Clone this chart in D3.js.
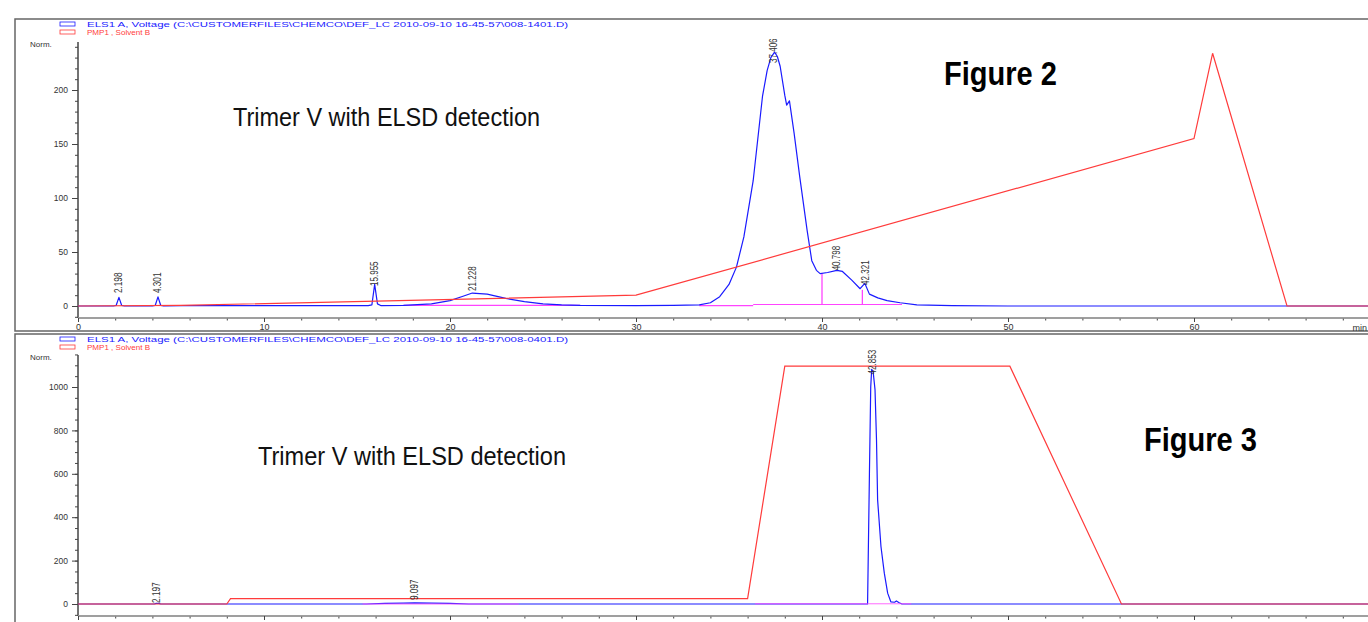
<!DOCTYPE html>
<html><head><meta charset="utf-8">
<script src="https://cdn.jsdelivr.net/npm/d3@7"></script>
<style>
html,body{margin:0;padding:0;background:#fff;}
svg{display:block;}
text{font-family:"Liberation Sans",Arial,sans-serif;}
</style></head>
<body>
<svg id="chart" width="1368" height="622"></svg>
<script>
// ---------- DATA ----------
const legendSignal2 = "ELS1 A, Voltage (C:\\CUSTOMERFILES\\CHEMCO\\DEF_LC 2010-09-10 16-45-57\\008-1401.D)";
const legendSignal3 = "ELS1 A, Voltage (C:\\CUSTOMERFILES\\CHEMCO\\DEF_LC 2010-09-10 16-45-57\\008-0401.D)";
const legendSolvent = "PMP1 , Solvent B";
const panelTitle = "Trimer V with ELSD detection";
const figureLabels = ["Figure 2", "Figure 3"];
const xTicksMajor = [0, 10, 20, 30, 40, 50, 60];
const yTicks2 = [0, 50, 100, 150, 200];
const yTicks3 = [0, 200, 400, 600, 800, 1000];

// Figure 2 ELSD trace [time (min), signal]
const elsd2 = [[0,0],[1.9,0],[2.05,0.5],[2.2,8],[2.35,0.5],[2.5,0],[4.0,0],[4.15,0.5],[4.3,8.5],[4.45,0.5],[4.6,0],
  [5.6,0.3],[15.6,0.3],[15.8,1],[15.95,20],[16.1,2],[16.3,0.3],[17.5,0.5],[19,2],[20,5],[20.7,9],[21.2,12],[22,11],
  [23,7],[24,4],[25,2],[26,1],[27,0.5],[30,0.3],[32,0.5],[33.4,1],[34.0,3],[34.5,8.6],[35,20],[35.4,36],[35.8,64],
  [36.3,116],[36.8,194],[37.05,218],[37.25,230],[37.45,235],[37.6,231],[37.75,222],[38.0,195],[38.1,186],[38.25,190],[38.5,160],
  [38.8,120],[39.2,70],[39.45,42],[39.7,33],[39.9,30],[40.3,31],[40.8,33],[41.1,32],[41.6,24],[42.05,16],[42.3,21],
  [42.55,11],[43,7.5],[43.5,5],[44.2,3],[45.1,1],[47,0.3],[50,0],[70,0]];
// Figure 2 solvent B gradient
const solvent2 = [[0,0],[5.5,0.5],[30,10],[60,155],[61,234],[65,0],[70,0]];
// Figure 2 integration baselines (segments) and drop lines
const baseline2 = [[[17.5,0.6],[27,0.6]],[[33.4,0.4],[36.3,0.4]],[[36.3,1.4],[44.3,1.4]]];
const drops2 = [[40.0,1.4,30],[42.17,1.4,15]];
// Figure 2 peak labels
const peakTimes2 = [2.198, 4.301, 15.955, 21.228, 37.406, 40.798, 42.321];
const peakTexts2 = ["2.198","4.301","15.955","21.228","37.406","40.798","42.321"];
const peakLabelY2 = [12, 12, 18.5, 14, 225, 33, 19.5];

// Figure 3 ELSD trace
const elsd3 = [[0,0],[4.1,0],[4.2,3],[4.35,3],[4.45,0],[15.5,0],[16.5,3],[17.5,4],[18.1,5],[19,4],[20,3],[21,0],
  [42.45,0],[42.55,600],[42.62,1000],[42.67,1081],[42.75,1070],[42.85,988],[42.93,757],[42.99,480],[43.17,265],
  [43.35,142],[43.53,50],[43.7,10],[43.9,8],[44.0,14],[44.15,6],[44.3,0],[70,0]];
const solvent3 = [[0,0],[8,0],[8.2,25],[36,25],[38,1096],[50.1,1096],[56.1,0],[70,0]];
const baseline3 = [[[15.3,0],[23.7,0]],[[36.4,1],[44.8,1]]];
const peakTimes3 = [4.2, 18.1, 42.73];
const peakTexts3 = ["2.197","9.097","42.853"];
const peakLabelY3 = [5, 18, 1058];

// ---------- DRAW ----------
const svg = d3.select("#chart");
svg.append("rect").attr("width",1368).attr("height",622).attr("fill","#fff");

const x = d3.scaleLinear().domain([0, 10]).range([78, 264]);
const BLUE = "#1a1aff", RED = "#ff3b3b", MAG = "#ff44ff", AX = "#444";
const CONDENSED = "'Liberation Sans Narrow','DejaVu Sans Condensed','Roboto',sans-serif";

function panel(cfg){
  const g = svg.append("g");
  const y = d3.scaleLinear().domain([0, cfg.vRef]).range([cfg.y0, cfg.yRef]);
  // frame
  g.append("path").attr("d", `M1370,${cfg.top} H15 V${cfg.bottom} H1370`)
    .attr("fill","none").attr("stroke","#666").attr("stroke-width",1.5);
  // legend
  g.append("rect").attr("x",60).attr("y",cfg.top+3).attr("width",15).attr("height",4)
    .attr("fill","none").attr("stroke",BLUE).attr("stroke-width",0.8);
  g.append("rect").attr("x",60).attr("y",cfg.top+11).attr("width",15).attr("height",4)
    .attr("fill","none").attr("stroke",RED).attr("stroke-width",0.8);
  g.append("text").attr("x",87).attr("y",cfg.top+7.5).attr("font-size",7.6).attr("fill",BLUE)
    .attr("textLength",481).attr("lengthAdjust","spacingAndGlyphs").text(cfg.legend);
  g.append("text").attr("x",87).attr("y",cfg.top+16).attr("font-size",7.6).attr("fill",RED)
    .attr("textLength",63).attr("lengthAdjust","spacingAndGlyphs").text(legendSolvent);
  g.append("text").attr("x",30).attr("y",cfg.normY).attr("font-size",8).attr("fill","#333").text("Norm.");

  // y axis
  const yAxis = d3.axisLeft(y).tickValues(cfg.yMinor).tickSize(3).tickFormat("");
  const ya = g.append("g").attr("transform","translate(78,0)").call(yAxis);
  const yMaj = d3.axisLeft(y).tickValues(cfg.yTicks).tickSize(6).tickPadding(4).tickFormat(d3.format("d"));
  const yb = g.append("g").attr("transform","translate(78,0)").call(yMaj);
  [ya,yb].forEach(a=>{
    a.select(".domain").attr("stroke",AX).attr("d",`M0,${cfg.axisTop}V${cfg.axisY}`);
    a.selectAll(".tick line").attr("stroke",AX);
    a.selectAll("text").attr("font-size",8.5).attr("fill","#333").attr("font-family","Liberation Sans, Arial, sans-serif");
  });
  // x axis
  const xMinor = d3.range(0, 71, 2);
  const xa = g.append("g").attr("transform",`translate(0,${cfg.axisY})`)
    .call(d3.axisBottom(x).tickValues(xMinor).tickSize(2.5).tickFormat(""));
  const xb = g.append("g").attr("transform",`translate(0,${cfg.axisY})`)
    .call(d3.axisBottom(x).tickValues(xTicksMajor).tickSize(4).tickPadding(2)
      .tickFormat(cfg.showXLabels ? d3.format("d") : ""));
  [xa,xb].forEach(a=>{
    a.select(".domain").attr("stroke","#999").attr("stroke-width",1.6).attr("d",`M78,0H1370`);
    a.selectAll(".tick line").attr("stroke",AX);
    a.selectAll("text").attr("font-size",9).attr("fill","#333").attr("font-family","Liberation Sans, Arial, sans-serif");
  });
  if (cfg.showXLabels) g.append("text").attr("x",1367).attr("y",cfg.axisY+13).attr("text-anchor","end")
    .attr("font-size",9).attr("fill","#333").text("min");

  const line = d3.line().x(d=>x(d[0])).y(d=>y(d[1]));
  const clip = `clip${cfg.id}`;
  svg.append("clipPath").attr("id",clip).append("rect").attr("x",78).attr("y",cfg.top+1).attr("width",1300).attr("height",cfg.axisY-cfg.top-2);
  const plot = g.append("g").attr("clip-path",`url(#${clip})`);

  // baselines
  cfg.baselines.forEach(seg=>plot.append("path").attr("d",line(seg)).attr("fill","none").attr("stroke",MAG).attr("stroke-width",1.2));
  (cfg.drops||[]).forEach(d=>plot.append("line").attr("x1",x(d[0])).attr("x2",x(d[0])).attr("y1",y(d[1])).attr("y2",y(d[2]))
    .attr("stroke",MAG).attr("stroke-width",1.3));
  // signal
  plot.append("path").attr("d",line(cfg.signal)).attr("fill","none").attr("stroke",BLUE).attr("stroke-width",1.2).attr("stroke-linejoin","round");
  if (cfg.magOnTop) cfg.magOnTop.forEach(seg=>plot.append("path").attr("d",line(seg)).attr("fill","none").attr("stroke",MAG).attr("stroke-width",1).attr("stroke-opacity",0.8));
  // solvent
  plot.append("path").attr("d",line(cfg.solvent)).attr("fill","none").attr("stroke",RED).attr("stroke-width",1.2);

  // peak labels
  cfg.peakTimes.forEach((t,i)=>{
    const px = x(t), py = y(cfg.peakLabelY[i]);
    g.append("text").attr("transform",`translate(${px+3.5},${py}) rotate(-90)`)
      .attr("font-size",10).attr("fill","#333").attr("textLength",cfg.peakTexts[i].length*4.1)
      .attr("lengthAdjust","spacingAndGlyphs").text(cfg.peakTexts[i]);
  });

  // titles
  g.append("text").attr("x",cfg.titleX).attr("y",cfg.titleY)
    .attr("font-family",CONDENSED)
    .attr("font-size",25).attr("fill","#111").attr("textLength",cfg.titleW).attr("lengthAdjust","spacingAndGlyphs").text(panelTitle);
  g.append("text").attr("x",cfg.figX).attr("y",cfg.figY)
    .attr("font-family",CONDENSED)
    .attr("font-weight","bold").attr("font-size",34).attr("fill","#000")
    .attr("textLength",113).attr("lengthAdjust","spacingAndGlyphs").text(cfg.fig);
}

panel({
  id:2, top:19, bottom:331, y0:306, yRef:90, vRef:200, axisTop:42, axisY:318, normY:47,
  yTicks:yTicks2, yMinor:d3.range(-10, 241, 10), legend:legendSignal2, showXLabels:true,
  signal:elsd2, solvent:solvent2, baselines:baseline2, drops:drops2,
  peakTimes:peakTimes2, peakTexts:peakTexts2, peakLabelY:peakLabelY2,
  titleX:233, titleY:126, titleW:307, fig:figureLabels[0], figX:944, figY:85
});
panel({
  id:3, top:334, bottom:640, y0:604, yRef:387, vRef:1000, axisTop:355, axisY:616, normY:360,
  yTicks:yTicks3, yMinor:d3.range(-50, 1151, 50), legend:legendSignal3, showXLabels:false,
  signal:elsd3, solvent:solvent3, baselines:[], magOnTop:baseline3,
  peakTimes:peakTimes3, peakTexts:peakTexts3, peakLabelY:peakLabelY3,
  titleX:258, titleY:465, titleW:308, fig:figureLabels[1], figX:1144, figY:451
});
</script>
</body></html>
